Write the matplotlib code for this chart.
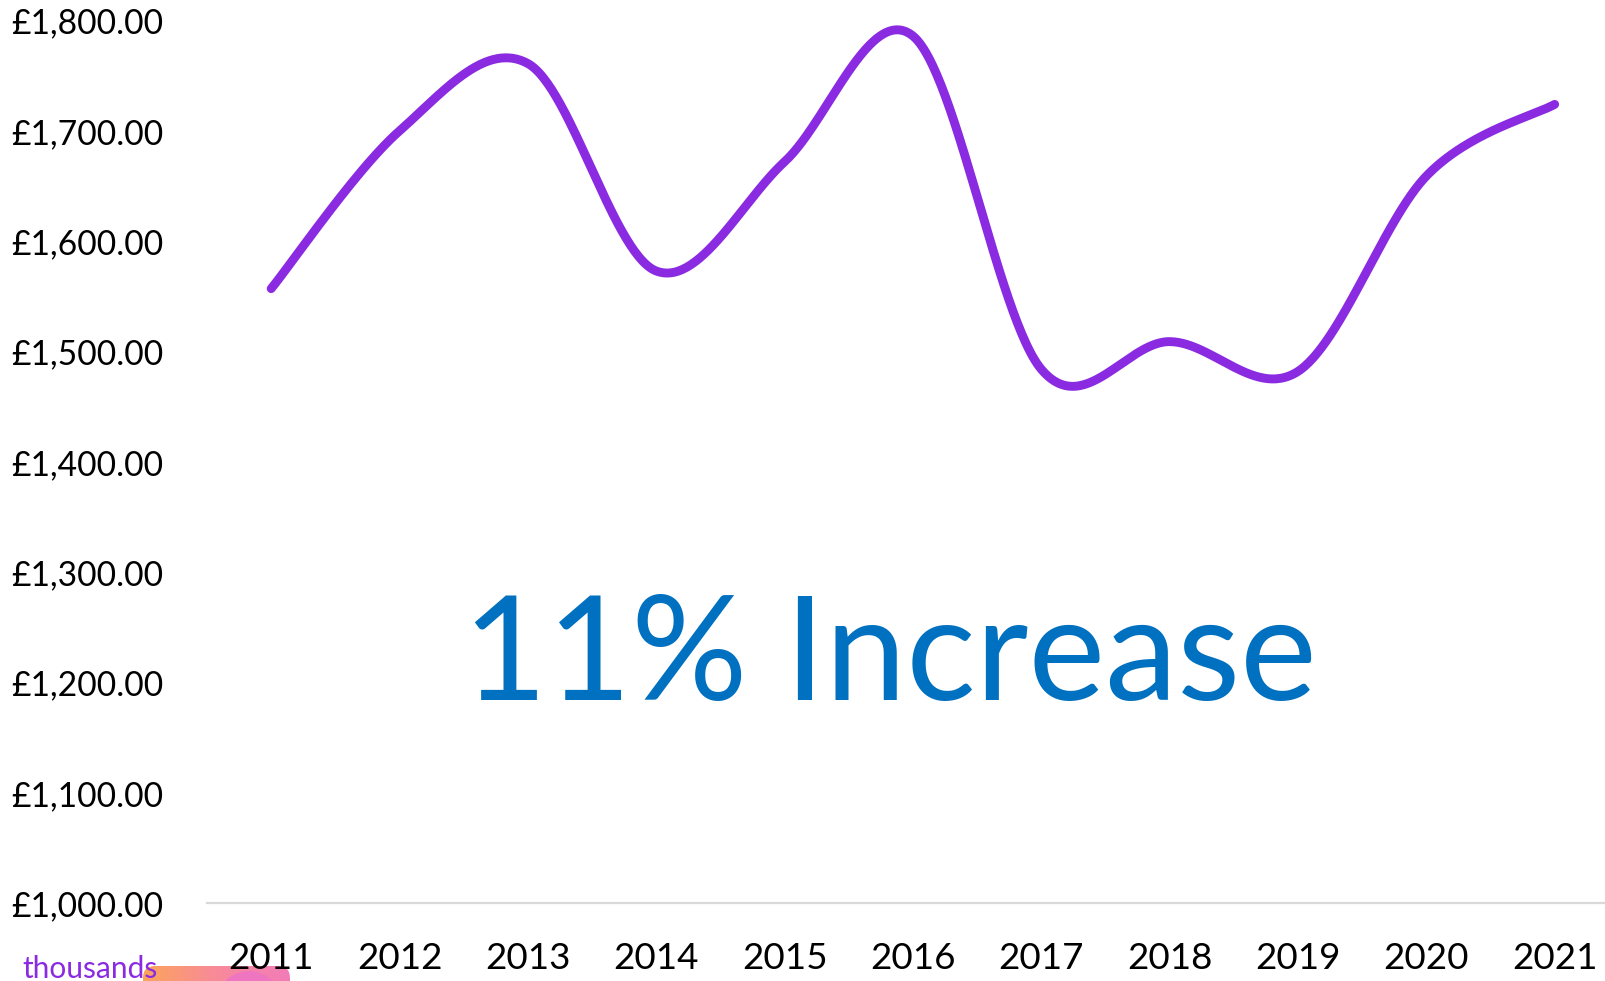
import numpy as np
import matplotlib
matplotlib.use("Agg")
import matplotlib.pyplot as plt
from matplotlib.patches import FancyBboxPatch, Circle
from matplotlib.colors import LinearSegmentedColormap
from matplotlib.ticker import FuncFormatter

# Average cost per year
years = [2011, 2012, 2013, 2014, 2015, 2016, 2017, 2018, 2019, 2020, 2021]
values = [1557, 1700, 1761, 1573, 1672, 1786, 1484, 1509, 1482, 1659, 1724]
y_ticks = [1000, 1100, 1200, 1300, 1400, 1500, 1600, 1700, 1800]
headline = "11% Increase"
unit_note = "thousands"

LINE_COLOR = "#8A2BE2"
TEXT_BLUE = "#0070C0"
FONT = "Lato"

W, H, DPI = 1606, 981, 100
fig = plt.figure(figsize=(W / DPI, H / DPI), dpi=DPI)
fig.patch.set_facecolor("white")

left, right = 207 / W, 1.0
bottom, top = 1 - 903.3 / H, 1 - 20.5 / H
ax = fig.add_axes([left, bottom, right - left, top - bottom])


def smooth_curve(xs, ys, steps=60):
    """Piecewise cubic Bezier through the points, spreadsheet-style smoothing."""
    xs = np.asarray(xs, float)
    ys = np.asarray(ys, float)
    n = len(xs)
    px, py = [], []
    for i in range(n - 1):
        x0, y0 = xs[i], ys[i]
        x3, y3 = xs[i + 1], ys[i + 1]
        xm, ym = (xs[i - 1], ys[i - 1]) if i > 0 else (x0, y0)
        xp, yp = (xs[i + 2], ys[i + 2]) if i + 2 < n else (x3, y3)
        x1, y1 = x0 + (x3 - xm) / 6, y0 + (y3 - ym) / 6
        x2, y2 = x3 - (xp - x0) / 6, y3 - (yp - y0) / 6
        t = np.linspace(0, 1, steps)
        a, b, c, d = (1 - t) ** 3, 3 * (1 - t) ** 2 * t, 3 * (1 - t) * t ** 2, t ** 3
        px.append(a * x0 + b * x1 + c * x2 + d * x3)
        py.append(a * y0 + b * y1 + c * y2 + d * y3)
    return np.concatenate(px), np.concatenate(py)


sx, sy = smooth_curve(years, values)
ax.plot(sx, sy, color=LINE_COLOR, lw=6.4, solid_capstyle="round",
        solid_joinstyle="round", zorder=3)

ax.set_xlim(2010.5, 2021.4)
ax.set_ylim(1000, 1800)
ax.set_xticks(years)
ax.set_xticklabels([str(y) for y in years])
ax.set_yticks(y_ticks)
ax.yaxis.set_major_formatter(FuncFormatter(lambda v, _: f"£{v:,.2f}"))

for s in ("top", "right", "left"):
    ax.spines[s].set_visible(False)
ax.spines["bottom"].set_color("#D9D9D9")
ax.spines["bottom"].set_linewidth(1.6)
ax.tick_params(axis="both", length=0, colors="black")
ax.tick_params(axis="y", pad=31.5, labelsize=24.2)
ax.tick_params(axis="x", pad=28, labelsize=26.5)
for lab in ax.get_xticklabels() + ax.get_yticklabels():
    lab.set_fontfamily(FONT)

ax.text(0.5 * (2010.5 + 2021.4) - 0.132, 1222, headline, ha="center", va="center",
        color=TEXT_BLUE, fontsize=104.5, fontfamily=FONT)

# Decorations along the lower-left edge, in figure pixel coordinates
deco = fig.add_axes([0, 0, 1, 1], zorder=-1)
deco.set_xlim(0, W)
deco.set_ylim(H, 0)
deco.axis("off")
grad = np.linspace(0, 1, 256)[None, :]
cmap = LinearSegmentedColormap.from_list("warm", ["#FCA45A", "#F88A9A", "#F27CB8"])
img = deco.imshow(grad, cmap=cmap, extent=[143, 290, 1010, 966], aspect="auto")
clip = FancyBboxPatch((143, 966), 147, 44, boxstyle="round,pad=0,rounding_size=12",
                      transform=deco.transData, facecolor="none", edgecolor="none")
deco.add_patch(clip)
img.set_clip_path(clip)
deco.add_patch(Circle((249, 1004), 33, facecolor="#EE76C0", edgecolor="none"))

fig.text(22 / W, 1 - 978 / H, unit_note, ha="left", va="baseline",
         color=LINE_COLOR, fontsize=21.5, fontfamily=FONT, zorder=5)

fig.savefig("out.png", dpi=DPI, facecolor="white")
